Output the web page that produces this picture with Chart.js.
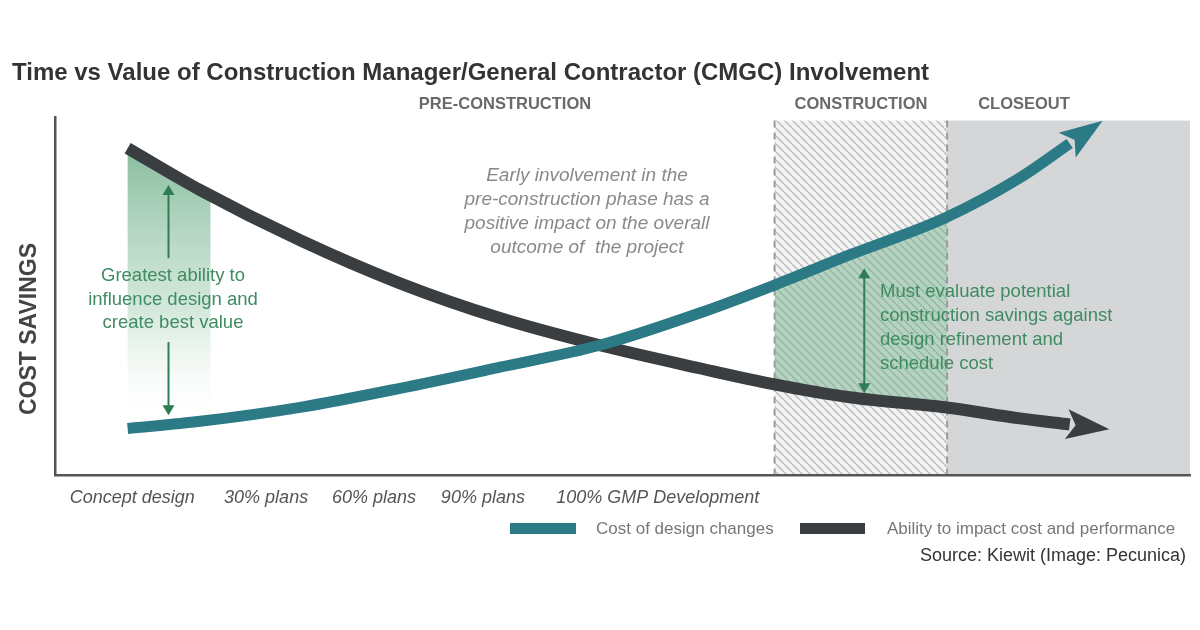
<!DOCTYPE html>
<html>
<head>
<meta charset="utf-8">
<script src="https://cdn.jsdelivr.net/npm/chart.js@4.4.1/dist/chart.umd.min.js"></script>
<style>
  html, body { margin: 0; padding: 0; background: #fff; }
  #wrap { width: 1200px; height: 630px; }
</style>
</head>
<body>
<div id="wrap"><canvas id="cmgc"></canvas></div>
<script>
(function () {
    "use strict";

    /* data: project time runs 0..100, value axis 0..100 */
    const timeline = [6.4, 12.8, 21.6, 30.4, 39.2, 48.0, 56.8, 63.4, 70.0, 78.4, 85.0, 89.4];
    const costOfDesignChanges = [13.1, 15.1, 19.0, 24.3, 30.2, 36.3, 45.3, 53.1, 61.5, 71.8, 83.0, 92.6];
    const abilityToImpact = [91.3, 79.6, 65.6, 53.6, 43.9, 36.3, 29.9, 25.4, 21.8, 19.0, 15.9, 14.2];

    const milestoneAt = [6.8, 18.6, 28.1, 37.7, 53.1];
    const milestoneLabels = ['Concept design', '30% plans', '60% plans', '90% plans', '100% GMP Development'];

    const phaseNames = ['PRE-CONSTRUCTION', 'CONSTRUCTION', 'CLOSEOUT'];
    const phaseStart = [0, 63.4, 78.6];
    const phaseEnd = [63.4, 78.6, 100];
    const phaseTop = 99;

    const earlyBand = [6.4, 13.7];

    const TEAL = '#2b7a85';
    const DARK = '#3b3e41';
    const GREEN = '#2f7d55';
    const FONT = "'Liberation Sans', Arial, sans-serif";

    /* where the notes sit (pixels) */
    const LAYOUT = {
        phaseLabelX: [505, 861, 1024],
        phaseLabelY: 104,
        earlyNote: { x: 173, y: [276, 300, 323], lines: ['Greatest ability to', 'influence design and', 'create best value'] },
        earlyArrow: { x: 10.0, parts: [[81.0, 60.6, 'up'], [37.2, 16.8, 'down']] },
        midNote: { x: 587, y: [176, 200, 224, 248], lines: ['Early involvement in the', 'pre-construction phase has a', 'positive impact on the overall', 'outcome of  the project'] },
        lateNote: { x: 880, y: [292, 316, 340, 364], lines: ['Must evaluate potential', 'construction savings against', 'design refinement and', 'schedule cost'] },
        lateArrow: { x: 71.3, top: 57.8, bottom: 22.9 },
        legend: [{ box: [510, 523, 66, 11], textX: 596 }, { box: [800, 523, 65, 11], textX: 887 }],
        legendY: 529,
        source: { x: 1186, y: 556, text: 'Source: Kiewit (Image: Pecunica)' },
        yTitle: { x: 30, y: 329, text: 'COST SAVINGS' }
    };

    function hatchPattern(ctx) {
        const c = document.createElement('canvas');
        c.width = 8; c.height = 8;
        const p = c.getContext('2d');
        p.fillStyle = '#f3f3f3';
        p.fillRect(0, 0, 8, 8);
        p.strokeStyle = '#c2c2c2';
        p.lineWidth = 1.6;
        p.beginPath();
        [-8, 0, 8].forEach(function (k) { p.moveTo(k, 0); p.lineTo(k + 8, 8); });
        p.stroke();
        return ctx.createPattern(c, 'repeat');
    }

    function fillBetween(chart, from, to, style) {
        const xs = chart.scales.x;
        const a = chart.getDatasetMeta(0).dataset;
        const b = chart.getDatasetMeta(1).dataset;
        const p0 = xs.getPixelForValue(from), p1 = xs.getPixelForValue(to);
        const upper = [], lower = [];
        for (let i = 0; i <= 60; i++) {
            const px = p0 + (p1 - p0) * i / 60;
            const pa = a.interpolate({ x: px }, 'x');
            const pb = b.interpolate({ x: px }, 'x');
            if (pa && pb) { upper.push([px, pa.y]); lower.push([px, pb.y]); }
        }
        const ctx = chart.ctx;
        ctx.save();
        ctx.beginPath();
        upper.forEach(function (p, i) { i ? ctx.lineTo(p[0], p[1]) : ctx.moveTo(p[0], p[1]); });
        for (let i = lower.length - 1; i >= 0; i--) ctx.lineTo(lower[i][0], lower[i][1]);
        ctx.closePath();
        ctx.fillStyle = style;
        ctx.fill();
        ctx.restore();
    }

    function greenArrow(ctx, x, y1, y2, headTop, headBottom) {
        ctx.save();
        ctx.strokeStyle = GREEN;
        ctx.fillStyle = GREEN;
        ctx.lineWidth = 2;
        ctx.beginPath();
        ctx.moveTo(x, y1 + (headTop ? 6 : 0));
        ctx.lineTo(x, y2 - (headBottom ? 6 : 0));
        ctx.stroke();
        const head = function (y, dir) {
            ctx.beginPath();
            ctx.moveTo(x, y);
            ctx.lineTo(x - 6, y + dir * 10);
            ctx.lineTo(x + 6, y + dir * 10);
            ctx.closePath();
            ctx.fill();
        };
        if (headTop) head(y1, 1);
        if (headBottom) head(y2, -1);
        ctx.restore();
    }

    function textLines(ctx, note, align, font, color) {
        ctx.save();
        ctx.font = font;
        ctx.fillStyle = color;
        ctx.textAlign = align;
        ctx.textBaseline = 'middle';
        note.lines.forEach(function (t, i) { ctx.fillText(t, note.x, note.y[i]); });
        ctx.restore();
    }

    const backdrop = {
        id: 'backdrop',
        beforeDraw(chart) {
            const ctx = chart.ctx, xs = chart.scales.x, ys = chart.scales.y;
            const top = ys.getPixelForValue(phaseTop), bottom = ys.getPixelForValue(0);
            const c0 = xs.getPixelForValue(phaseStart[1]), c1 = xs.getPixelForValue(phaseEnd[1]);
            const s0 = xs.getPixelForValue(phaseStart[2]), s1 = xs.getPixelForValue(phaseEnd[2]);
            ctx.save();
            ctx.fillStyle = hatchPattern(ctx);
            ctx.fillRect(c0, top, c1 - c0, bottom - top);
            ctx.fillStyle = '#d4d6d8';
            ctx.fillRect(s0, top, s1 - s0, bottom - top);
            ctx.restore();

            fillBetween(chart, phaseStart[1], phaseEnd[1], 'rgba(104, 172, 130, 0.45)');

            const g = ctx.createLinearGradient(0, ys.getPixelForValue(92), 0, ys.getPixelForValue(14));
            g.addColorStop(0, 'rgba(96, 166, 126, 0.75)');
            g.addColorStop(0.6, 'rgba(150, 200, 170, 0.4)');
            g.addColorStop(1, 'rgba(255, 255, 255, 0)');
            fillBetween(chart, earlyBand[0], earlyBand[1], g);

            ctx.save();
            ctx.strokeStyle = '#9c9c9c';
            ctx.lineWidth = 2;
            ctx.setLineDash([7, 5]);
            [c0, c1].forEach(function (px) {
                ctx.beginPath();
                ctx.moveTo(px, top);
                ctx.lineTo(px, bottom);
                ctx.stroke();
            });
            ctx.restore();
        },
        afterDatasetsDraw(chart) {
            const ctx = chart.ctx, xs = chart.scales.x, ys = chart.scales.y;
            chart.data.datasets.forEach(function (ds, i) {
                const pts = chart.getDatasetMeta(i).data;
                const last = pts[pts.length - 1];
                let dx = last.x - (last.cp1x !== undefined ? last.cp1x : pts[pts.length - 2].x);
                let dy = last.y - (last.cp1y !== undefined ? last.cp1y : pts[pts.length - 2].y);
                const len = Math.hypot(dx, dy) || 1;
                dx /= len; dy /= len;
                const L = ds.arrowLength, H = ds.arrowHalf;
                ctx.save();
                ctx.fillStyle = ds.borderColor;
                ctx.beginPath();
                ctx.moveTo(last.x + dx * L, last.y + dy * L);
                ctx.lineTo(last.x - dy * H - dx * 3, last.y + dx * H - dy * 3);
                ctx.lineTo(last.x + dx * 6, last.y + dy * 6);
                ctx.lineTo(last.x + dy * H - dx * 3, last.y - dx * H - dy * 3);
                ctx.closePath();
                ctx.fill();
                ctx.restore();
            });

            const ea = LAYOUT.earlyArrow;
            greenArrow(ctx, xs.getPixelForValue(ea.x), ys.getPixelForValue(ea.parts[0][0]), ys.getPixelForValue(ea.parts[0][1]), true, false);
            greenArrow(ctx, xs.getPixelForValue(ea.x), ys.getPixelForValue(ea.parts[1][0]), ys.getPixelForValue(ea.parts[1][1]), false, true);
            const la = LAYOUT.lateArrow;
            greenArrow(ctx, xs.getPixelForValue(la.x), ys.getPixelForValue(la.top), ys.getPixelForValue(la.bottom), true, true);
        },
        afterDraw(chart) {
            const ctx = chart.ctx;
            textLines(ctx, LAYOUT.earlyNote, 'center', '18.5px ' + FONT, '#3f8c62');
            textLines(ctx, LAYOUT.lateNote, 'left', '18.5px ' + FONT, '#3f8c62');
            textLines(ctx, LAYOUT.midNote, 'center', 'italic 19px ' + FONT, '#8a8a8a');

            ctx.save();
            ctx.font = 'bold 16.5px ' + FONT;
            ctx.fillStyle = '#6a6a6a';
            ctx.textAlign = 'center';
            ctx.textBaseline = 'middle';
            phaseNames.forEach(function (name, i) { ctx.fillText(name, LAYOUT.phaseLabelX[i], LAYOUT.phaseLabelY); });

            ctx.font = '17px ' + FONT;
            ctx.textAlign = 'left';
            chart.data.datasets.forEach(function (ds, i) {
                const lg = LAYOUT.legend[i];
                ctx.fillStyle = ds.borderColor;
                ctx.fillRect(lg.box[0], lg.box[1], lg.box[2], lg.box[3]);
                ctx.fillStyle = '#777';
                ctx.fillText(ds.label, lg.textX, LAYOUT.legendY);
            });

            ctx.font = '18px ' + FONT;
            ctx.fillStyle = '#333';
            ctx.textAlign = 'right';
            ctx.fillText(LAYOUT.source.text, LAYOUT.source.x, LAYOUT.source.y);

            ctx.translate(LAYOUT.yTitle.x, LAYOUT.yTitle.y);
            ctx.rotate(-Math.PI / 2);
            ctx.font = 'bold 23px ' + FONT;
            ctx.fillStyle = '#444';
            ctx.textAlign = 'center';
            ctx.fillText(LAYOUT.yTitle.text, 0, 0);
            ctx.restore();
        }
    };

    const toPoints = function (ys) { return timeline.map(function (t, i) { return { x: t, y: ys[i] }; }); };

    const data = {
        datasets: [{
            label: 'Cost of design changes',
            data: toPoints(costOfDesignChanges),
            borderColor: TEAL,
            borderWidth: 11,
            arrowLength: 40,
            arrowHalf: 15
        }, {
            label: 'Ability to impact cost and performance',
            data: toPoints(abilityToImpact),
            borderColor: DARK,
            borderWidth: 12,
            arrowLength: 40,
            arrowHalf: 15
        }]
    };

    const config = {
        type: 'line',
        data: data,
        options: {
            responsive: true,
            maintainAspectRatio: false,
            animation: false,
            events: [],
            layout: { padding: { left: 12, right: 10, top: 0, bottom: 109 } },
            elements: {
                point: { radius: 0 },
                line: { cubicInterpolationMode: 'monotone', borderCapStyle: 'butt', fill: false }
            },
            plugins: {
                legend: { display: false },
                tooltip: { enabled: false },
                title: {
                    display: true,
                    text: 'Time vs Value of Construction Manager/General Contractor (CMGC) Involvement',
                    align: 'start',
                    color: '#333',
                    font: { family: FONT, size: 24, weight: 'bold' },
                    padding: { top: 58.6, bottom: 29.6 }
                }
            },
            scales: {
                x: {
                    type: 'linear',
                    min: 0,
                    max: 100,
                    afterBuildTicks: function (scale) {
                        scale.ticks = milestoneAt.map(function (v) { return { value: v }; });
                    },
                    ticks: {
                        autoSkip: false,
                        maxRotation: 0,
                        minRotation: 0,
                        padding: 12,
                        color: '#555',
                        font: { family: FONT, size: 18, style: 'italic' },
                        callback: function (value, index) { return milestoneLabels[index]; }
                    },
                    grid: { display: false, drawTicks: false },
                    border: { display: true, color: '#555', width: 2.5 }
                },
                y: {
                    min: 0,
                    max: 100,
                    afterFit: function (scale) { scale.width = 43; },
                    ticks: { display: false },
                    grid: { display: false, drawTicks: false },
                    border: { display: true, color: '#555', width: 2.5 }
                }
            }
        },
        plugins: [backdrop]
    };

    const chart = new Chart(document.getElementById('cmgc'), config);
})();
</script>
</body>
</html>
